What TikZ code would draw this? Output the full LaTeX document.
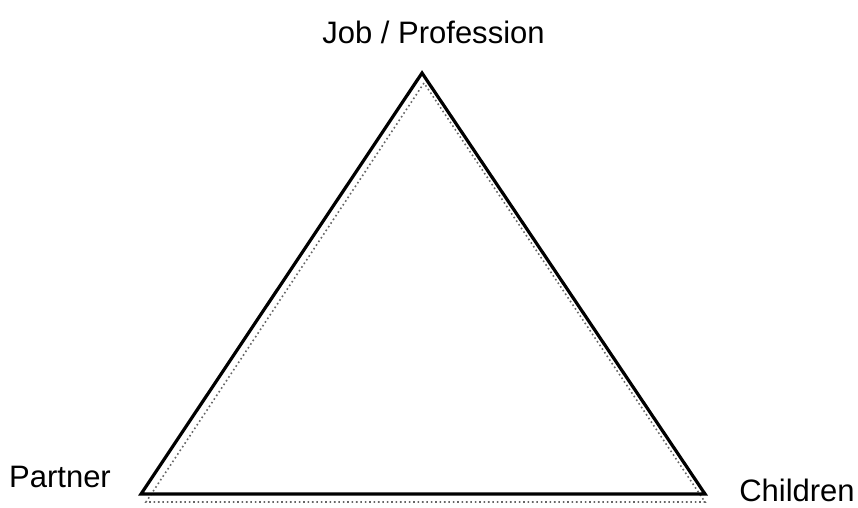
\documentclass[tikz,border=0pt]{standalone}
\usepackage{fontspec}
\setmainfont{Liberation Sans}
\begin{document}
\begin{tikzpicture}[x=1pt,y=-1pt,
  lbl/.style={inner sep=0pt,font=\fontsize{31}{37}\selectfont},
  solidedge/.style={line width=3.2pt,line join=miter,black},
  dotedge/.style={line width=1.6pt,black!60,dash pattern=on 1.6pt off 2.8pt}]
\useasboundingbox (0,0) rectangle (858,507);
\coordinate (A) at (422,73);
\coordinate (B) at (141,494);
\coordinate (C) at (705,494);
\coordinate (A2) at (424,83);
\coordinate (B2) at (146,502);
\coordinate (C2) at (705,502);
\draw[dotedge] (A2) -- (B2) -- (C2) -- cycle;
\draw[solidedge] (A) -- (B) -- (C) -- cycle;
\node[lbl] (job) at (433.5,32) {Job / Profession};
\node[lbl] (partner) at (60,477) {Partner};
\node[lbl] (children) at (797,490) {Children};
\end{tikzpicture}
\end{document}
